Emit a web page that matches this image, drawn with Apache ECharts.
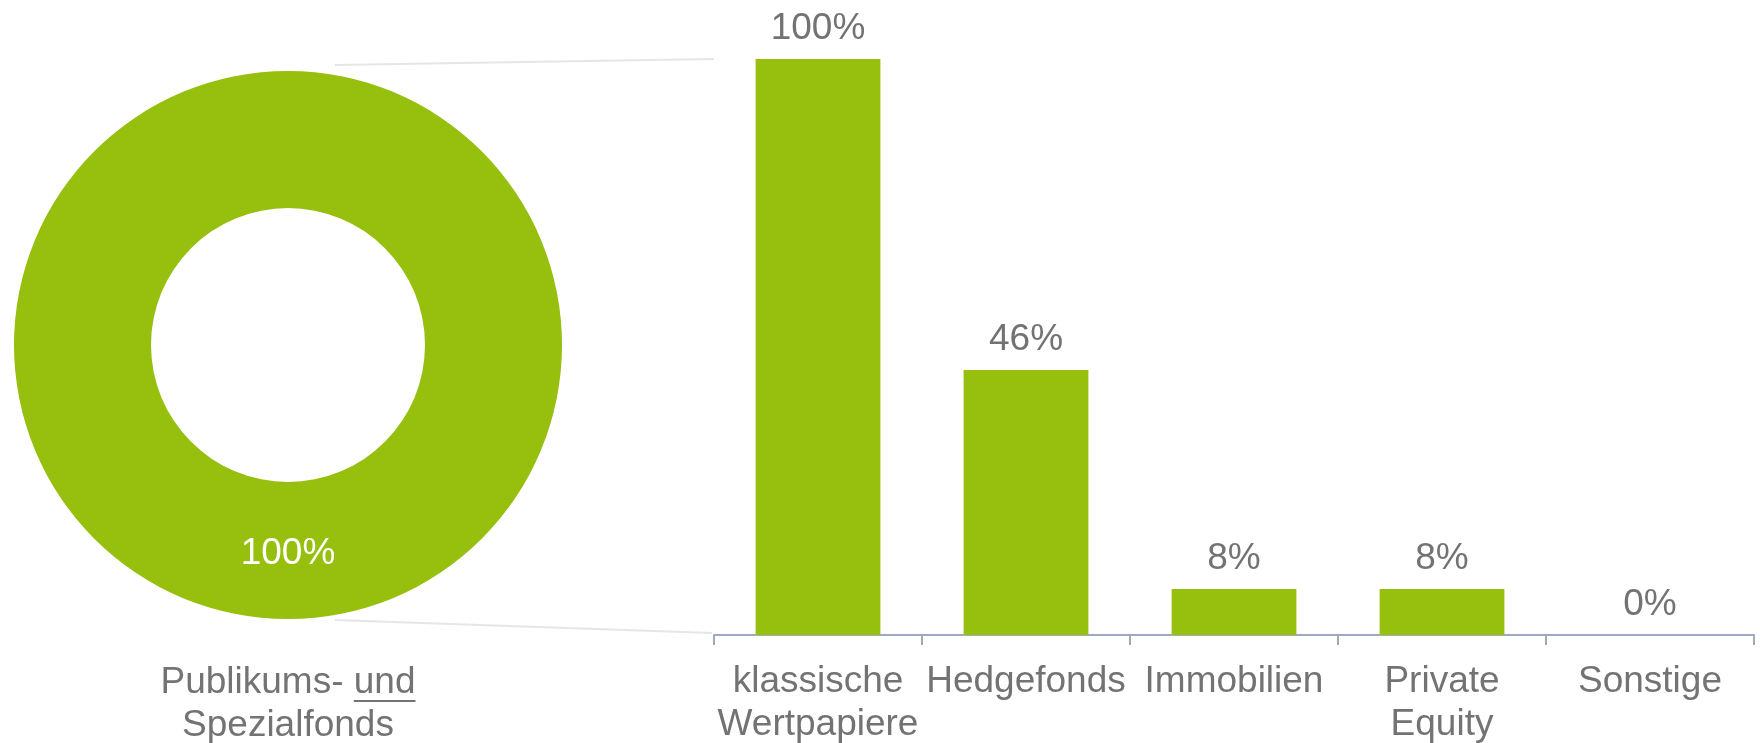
<!DOCTYPE html>
<html>
<head>
<meta charset="utf-8">
<script src="https://cdn.jsdelivr.net/npm/echarts@6/dist/echarts.min.js"></script>
<style>
html,body{margin:0;padding:0;background:#fff;}
#c{width:1760px;height:743px;}
</style>
</head>
<body>
<div id="c"></div>
<script>
// ---- data ----
const pieCategories = ['Publikums- und Spezialfonds'];
const pieValues = [100];
const barCategories = ['klassische\nWertpapiere', 'Hedgefonds', 'Immobilien', 'Private\nEquity', 'Sonstige'];
const barValues = [100, 46, 8, 8, 0];

// ---- style / layout ----
const GREEN = '#97BF0D';
const GRAY = '#737373';
const FONT = '"Liberation Sans", Arial, sans-serif';
const FS = 37;
const LH = 43;
const pieCenter = [288, 345];
const pieRadius = [137, 274];
const grid = { left: 714, right: 6, top: 59, bottom: 108, containLabel: false, outerBoundsMode: 'none' };

const chart = echarts.init(document.getElementById('c'));

const option = {
  animation: false,
  textStyle: { fontFamily: FONT },
  grid: grid,
  xAxis: {
    type: 'category',
    data: barCategories,
    axisLine: { lineStyle: { color: '#9FA9C3', width: 2 } },
    axisTick: { show: true, length: 10, lineStyle: { color: '#9FA9C3', width: 2 } },
    axisLabel: { color: GRAY, fontSize: FS, fontFamily: FONT, lineHeight: LH, margin: 25, interval: 0 }
  },
  yAxis: {
    type: 'value', min: 0, max: 100, show: false, splitLine: { show: false }
  },
  series: [
    {
      type: 'bar',
      data: barValues,
      barWidth: '60%',
      itemStyle: { color: GREEN },
      label: {
        show: true, position: 'top', distance: 12,
        color: GRAY, fontSize: FS, fontFamily: FONT,
        formatter: p => p.value + '%'
      }
    },
    {
      type: 'pie',
      center: pieCenter,
      radius: pieRadius,
      startAngle: 90,
      silent: true,
      data: pieCategories.map((n, i) => ({ name: n, value: pieValues[i] })),
      itemStyle: { color: GREEN },
      label: {
        show: true, position: 'inside',
        color: '#ffffff', fontSize: FS, fontFamily: FONT,
        formatter: p => p.value + '%'
      },
      labelLine: { show: false }
    }
  ]
};
chart.setOption(option);

// decorations: connector lines, pie caption with underline
const topY = chart.convertToPixel({ yAxisIndex: 0 }, 100);
const baseY = chart.convertToPixel({ yAxisIndex: 0 }, 0);
const gx = grid.left;
const lx = pieCenter[0] + 47;
const captionTop = 661;

const captionLine1 = 'Publikums- ';
const underlined = 'und';
const captionLine2 = 'Spezialfonds';

const ctx = document.createElement('canvas').getContext('2d');
ctx.font = FS + 'px ' + FONT;
const w1 = ctx.measureText(captionLine1 + underlined).width;
const wPre = ctx.measureText(captionLine1).width;
const ux0 = pieCenter[0] - w1 / 2 + wPre;
const ux1 = pieCenter[0] + w1 / 2;
const uy = captionTop + 40;

chart.setOption({
  graphic: [
    { type: 'line', z: -1, shape: { x1: lx, y1: pieCenter[1] - pieRadius[1] - 6, x2: gx, y2: topY }, style: { stroke: '#E6E6E6', lineWidth: 2 } },
    { type: 'line', z: -1, shape: { x1: lx, y1: pieCenter[1] + pieRadius[1] + 1, x2: gx - 2, y2: baseY - 2 }, style: { stroke: '#E6E6E6', lineWidth: 2 } },
    { type: 'text', x: pieCenter[0], y: captionTop,
      style: { text: captionLine1 + underlined + '\n' + captionLine2, fill: GRAY, font: FS + 'px ' + FONT,
        textAlign: 'center', textVerticalAlign: 'top', lineHeight: LH } },
    { type: 'line', shape: { x1: ux0, y1: uy, x2: ux1, y2: uy }, style: { stroke: GRAY, lineWidth: 2 } }
  ]
});
</script>
</body>
</html>
